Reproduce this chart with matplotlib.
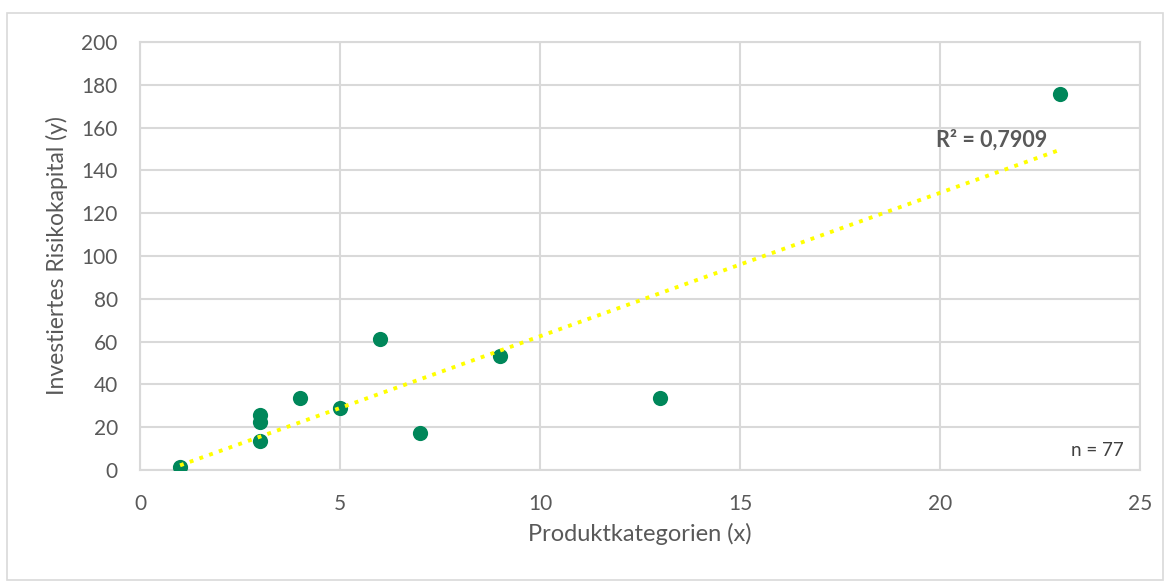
import matplotlib.pyplot as plt
import numpy as np
from matplotlib.patches import Rectangle

plt.rcParams['font.family'] = ['Lato', 'DejaVu Sans']

# data
produktkategorien = [1, 3, 3, 3, 4, 5, 6, 7, 9, 13, 23]
risikokapital = [1.5, 25.5, 22.3, 13.5, 33.7, 29.0, 61.3, 17.3, 53.3, 33.5, 175.5]
r2_label = 'R² = 0,7909'
n_label = 'n = 77'

text_grey = '#595959'
grid_grey = '#d9d9d9'
green = '#00875a'

fig = plt.figure(figsize=(11.67, 5.82), dpi=100)
ax = fig.add_axes([0.12, 0.1924, 0.8569, 0.7354])

# outer chart border
fig.patches.append(Rectangle((7 / 1167, 2 / 582), 1156 / 1167, 567 / 582,
                             transform=fig.transFigure, fill=False,
                             edgecolor=grid_grey, linewidth=1.2))

x = np.array(produktkategorien)
y = np.array(risikokapital)
slope, intercept = np.polyfit(x, y, 1)
xs = np.array([x.min(), x.max()])

ax.scatter(x, y, s=120, color=green, zorder=3, linewidths=0)
ax.plot(xs, slope * xs + intercept, color='#ffff00', linestyle=':',
        linewidth=2.8, zorder=4)

ax.set_xlim(0, 25)
ax.set_ylim(0, 200)
ax.set_xticks(range(0, 26, 5))
ax.set_yticks(range(0, 201, 20))
ax.grid(True, color=grid_grey, linewidth=1.5)
ax.set_axisbelow(True)
for s in ax.spines.values():
    s.set_color(grid_grey)
    s.set_linewidth(1.5)
ax.tick_params(length=0, labelsize=15, labelcolor=text_grey)
ax.tick_params(axis='x', pad=17)
ax.tick_params(axis='y', pad=16)

ax.set_xlabel('Produktkategorien (x)', fontsize=17, color=text_grey, labelpad=7)
ax.set_ylabel('Investiertes Risikokapital (y)', fontsize=16.5, color=text_grey, labelpad=10)

ax.text(19.9, 154, r2_label, fontsize=15.5, fontweight='bold', color=text_grey,
        ha='left', va='center')
ax.text(24.6, 9, n_label, fontsize=13.5, color='#404040', ha='right', va='center')

fig.savefig('out.png', dpi=100)
